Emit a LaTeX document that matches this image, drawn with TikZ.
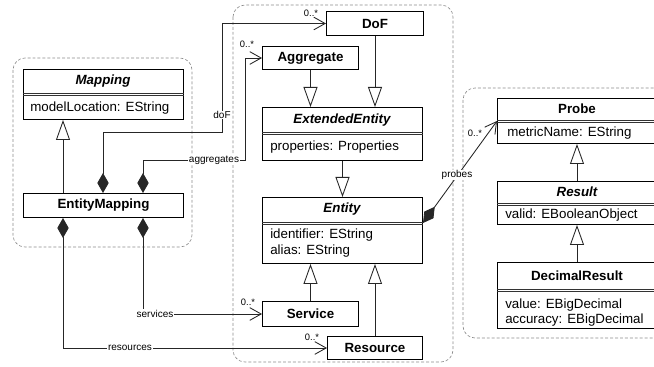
\documentclass[tikz,border=0pt]{standalone}
\usepackage{fontspec}
\setmainfont{Liberation Sans}
\usetikzlibrary{arrows.meta}
\begin{document}
\begin{tikzpicture}[x=0.75pt,y=-0.75pt,
  cls/.style={draw=black, line width=0.75pt, fill=white, inner sep=0pt, anchor=north west},
  grp/.style={draw=black!45, dash pattern=on 2.2pt off 1.5pt, line width=0.5pt, rounded corners=9pt},
  ttl/.style={font=\fontsize{10}{12}\selectfont\bfseries, inner sep=0pt},
  ittl/.style={font=\fontsize{10}{12}\selectfont\bfseries\itshape, inner sep=0pt},
  attr/.style={font=\fontsize{10}{12}\selectfont, anchor=west, inner sep=0pt, align=left},
  lbl/.style={font=\fontsize{7.5}{9}\selectfont, fill=white, inner sep=0.6pt},
  mult/.style={font=\fontsize{7}{8}\selectfont, inner sep=0pt},
  gen/.style={line width=0.65pt, draw=black!85, -{Triangle[fill=white, length=15pt, width=10.5pt]}},
  nav/.style={line width=0.65pt, draw=black!85, {Diamond[length=15pt,width=8.5pt]}-{Straight Barb[length=8.5pt,width=9.5pt]}},
  sep/.style={line width=0.6pt, draw=black!80},
]
\useasboundingbox (0,0) rectangle (654,367);
\clip (0,0) rectangle (654,367);

% groups
\draw[grp] (13,58) rectangle (192,247);
\draw[grp] (233,5) rectangle (453,362);
\draw[grp] (463,88) rectangle (670,338);

% classes
\node[cls, minimum width=160*0.75pt, minimum height=50*0.75pt] (map) at (23,69) {};
\node[cls, minimum width=160*0.75pt, minimum height=24*0.75pt] (em) at (23,193) {};
\node[cls, minimum width=97*0.75pt, minimum height=24*0.75pt] (dof) at (326,11) {};
\node[cls, minimum width=96*0.75pt, minimum height=23*0.75pt] (agg) at (262,46) {};
\node[cls, minimum width=160*0.75pt, minimum height=53*0.75pt] (ext) at (262,107) {};
\node[cls, minimum width=160*0.75pt, minimum height=66*0.75pt] (ent) at (262,197) {};
\node[cls, minimum width=96*0.75pt, minimum height=25*0.75pt] (svc) at (262,301) {};
\node[cls, minimum width=95*0.75pt, minimum height=23*0.75pt] (res) at (327,336) {};
\node[cls, minimum width=160*0.75pt, minimum height=45*0.75pt] (probe) at (497,98) {};
\node[cls, minimum width=160*0.75pt, minimum height=43*0.75pt] (result) at (497,181) {};
\node[cls, minimum width=160*0.75pt, minimum height=66*0.75pt] (dec) at (497,262) {};

% separators
\foreach \n/\y in {map/93, ext/132, ent/222, probe/120, result/203, dec/289}{
  \draw[sep] (\n.west |- 0,\y) -- (\n.east |- 0,\y);
  \draw[sep] (\n.west |- 0,\y+2.5) -- (\n.east |- 0,\y+2.5);
}

% texts
\node[ittl] (mapT) at (103,81) {Mapping};
\node[attr] (mapA) at (30,108) {modelLocation: EString};
\node[ttl] (emT) at (em.center) {EntityMapping};
\node[ttl] (dofT) at (dof.center) {DoF};
\node[ttl] (aggT) at (agg.center) {Aggregate};
\node[ittl] (extT) at (342,120) {ExtendedEntity};
\node[attr] (extA) at (270,147) {properties: Properties};
\node[ittl] (entT) at (342,209) {Entity};
\node[attr] (entA1) at (270,235) {identifier: EString};
\node[attr] (entA2) at (270,251) {alias: EString};
\node[ttl] (svcT) at (svc.center) {Service};
\node[ttl] (resT) at (res.center) {Resource};
\node[ttl] (probeT) at (577,109) {Probe};
\node[attr] (probeA) at (507,133) {metricName: EString};
\node[ittl] (resultT) at (577,192) {Result};
\node[attr] (resultA) at (505,215) {valid: EBooleanObject};
\node[ttl] (decT) at (577,276) {DecimalResult};
\node[attr] (decA1) at (505,305) {value: EBigDecimal};
\node[attr] (decA2) at (505,320) {accuracy: EBigDecimal};

% generalizations
\draw[gen] (em.north -| 63,0) -- (map.south -| 63,0);
\draw[gen] (agg.south) -- (agg.south |- ext.north);
\draw[gen] (dof.south) -- (dof.south |- ext.north);
\draw[gen] (ext.south) -- (ent.north);
\draw[gen] (svc.north) -- (svc.north |- ent.south);
\draw[gen] (res.north) -- (res.north |- ent.south);
\draw[gen] (result.north -| 577,0) -- (probe.south -| 577,0);
\draw[gen] (dec.north -| 577,0) -- (result.south -| 577,0);

% compositions
\draw[nav] (em.north -| 103,0) |- (222,132) |- (dof.west);
\draw[nav] (em.north -| 143,0) |- (245,160) |- (agg.west);
\draw[nav] (em.south -| 143,0) |- (svc.west);
\draw[nav] (em.south -| 63,0) |- (res.west);
\draw[nav] (ent.east |- 0,223) -- (probe.west);

% labels
\node[lbl] (l1) at (222,115) {doF};
\node[lbl] (l2) at (214,160) {aggregates};
\node[lbl] (l3) at (155,313.5) {services};
\node[lbl] (l4) at (130,347.5) {resources};
\node[lbl] (l5) at (457,175) {probes};
\node[mult] (m1) at (311,13) {0..*};
\node[mult] (m2) at (247,44) {0..*};
\node[mult] (m3) at (248,302) {0..*};
\node[mult] (m4) at (312,337) {0..*};
\node[mult] (m5) at (475,133) {0..*};
\end{tikzpicture}
\end{document}
